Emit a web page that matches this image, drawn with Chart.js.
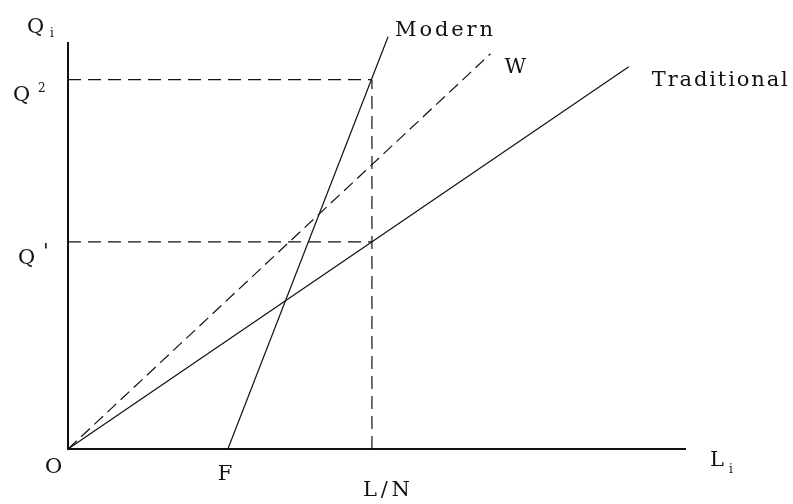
<!DOCTYPE html>
<html>
<head>
<meta charset="utf-8">
<script src="https://cdn.jsdelivr.net/npm/chart.js@4.4.1/dist/chart.umd.min.js"></script>
<style>
  html, body { margin: 0; padding: 0; background: #fff; }
  canvas { display: block; }
</style>
</head>
<body>
<canvas id="dualChart" width="793" height="504"></canvas>
<script>
// labour per sector (x) and output (y)
const fPoint = 5.26;       // F on the labour axis
const lnPoint = 10;        // L/N on the labour axis
const q1Level = 10;        // Q'
const q2Level = 17.83;     // Q²
const xMax = 20.3;
const yMax = 19.6;

const traditionalX = [0, 18.45];
const traditionalY = [0, 18.45];
const modernX = [fPoint, 10.53];
const modernY = [0, 19.9];
const wageX = [0, 13.9];
const wageY = [0, 19.08];

const toPoints = (xs, ys) => xs.map((x, i) => ({ x: x, y: ys[i] }));

const ink = "#111";
const guideDash = [13, 7];
const mainFont = "21px 'DejaVu Serif'";
const smallFont = "12px 'DejaVu Serif'";

// text labels drawn next to the scales
const labelPlugin = {
    id: "labels",
    afterDraw(chart) {
        const ctx = chart.ctx;
        const xs = chart.scales.x;
        const ys = chart.scales.y;
        const x0 = xs.getPixelForValue(0);
        const y0 = ys.getPixelForValue(0);
        const q2y = ys.getPixelForValue(q2Level);
        const q1y = ys.getPixelForValue(q1Level);

        ctx.save();
        ctx.fillStyle = ink;
        ctx.textBaseline = "alphabetic";
        ctx.textAlign = "left";

        // fit: stretch the letters out to a given width like the original lettering
        function txt(s, x, y, fit) {
            ctx.font = mainFont;
            ctx.letterSpacing = "0px";
            if (fit) {
                const natural = ctx.measureText(s).width;
                const gap = (fit - natural) / Math.max(1, s.length - 1);
                ctx.letterSpacing = Math.max(0, gap) + "px";
            }
            ctx.fillText(s, x, y);
        }
        function small(s, x, y) {
            ctx.font = smallFont;
            ctx.letterSpacing = "0px";
            ctx.fillText(s, x, y);
        }

        // y axis labels
        txt("Q", x0 - 41, 33);
        small("i", x0 - 18, 37);
        txt("Q", x0 - 55, q2y + 21);
        small("2", x0 - 30, q2y + 12);
        txt("Q", x0 - 50, q1y + 22);
        txt("'", x0 - 25, q1y + 16);

        // x axis labels
        txt("O", x0 - 23, y0 + 24);
        txt("F", xs.getPixelForValue(fPoint) - 10, y0 + 31);
        txt("L/N", xs.getPixelForValue(lnPoint) - 9, y0 + 47, 47);
        txt("L", xs.right + 25, y0 + 17);
        small("i", xs.right + 44, y0 + 24);

        // curve names
        txt("Modern", xs.getPixelForValue(modernX[1]) + 7, 36, 98);
        txt("W", xs.getPixelForValue(wageX[1]) + 14, 73);
        txt("Traditional", xs.getPixelForValue(traditionalX[1]) + 23, 86, 136);
        ctx.restore();
    }
};

const lineStyle = {
    borderColor: ink,
    borderWidth: 1.2,
    pointRadius: 0,
    tension: 0,
    fill: false
};

new Chart(document.getElementById("dualChart").getContext("2d"), {
    type: "line",
    data: {
        datasets: [
            Object.assign({ label: "Traditional", data: toPoints(traditionalX, traditionalY) }, lineStyle),
            Object.assign({ label: "Modern", data: toPoints(modernX, modernY), clip: false }, lineStyle),
            Object.assign({ label: "W", data: toPoints(wageX, wageY), borderDash: [12, 6] }, lineStyle),
            Object.assign({ label: "Q2 guide", data: [{ x: 0, y: q2Level }, { x: lnPoint, y: q2Level }], borderDash: guideDash }, lineStyle),
            Object.assign({ label: "Q1 guide", data: [{ x: 0, y: q1Level }, { x: lnPoint, y: q1Level }], borderDash: guideDash }, lineStyle),
            Object.assign({ label: "L/N guide", data: [{ x: lnPoint, y: 0 }, { x: lnPoint, y: q2Level }], borderDash: guideDash }, lineStyle)
        ]
    },
    options: {
        responsive: false,
        animation: false,
        layout: {
            padding: { left: 68, top: 43, right: 108, bottom: 55 }
        },
        scales: {
            x: {
                type: "linear",
                min: 0,
                max: xMax,
                grid: { display: false, drawTicks: false },
                ticks: { display: false },
                border: { display: true, color: ink, width: 2 }
            },
            y: {
                type: "linear",
                min: 0,
                max: yMax,
                grid: { display: false, drawTicks: false },
                ticks: { display: false },
                border: { display: true, color: ink, width: 2 }
            }
        },
        plugins: {
            legend: { display: false },
            tooltip: { enabled: false }
        }
    },
    plugins: [labelPlugin]
});
</script>
</body>
</html>
